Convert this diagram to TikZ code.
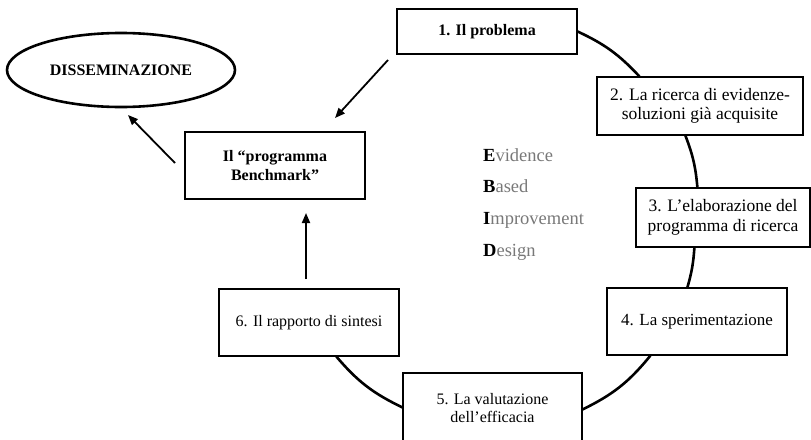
\documentclass[tikz,border=0pt]{standalone}
\usepackage{fontspec}
\setmainfont{Liberation Serif}
\usetikzlibrary{calc,shapes.geometric,arrows.meta}
\definecolor{ebidgray}{RGB}{120,120,120}
\begin{document}
\begin{tikzpicture}[x=1pt,y=1pt,
  boxnode/.style={draw, line width=1.2pt, rectangle, inner sep=0pt, align=center,
    font=\fontsize{16}{18.6}\selectfont},
  bigbox/.style={boxnode, font=\fontsize{17.5}{19.6}\selectfont},
  boldbox/.style={boxnode, font=\fontsize{16}{18.6}\selectfont\bfseries},
  ring/.style={line width=2.6pt},
  arr/.style={line width=1.8pt, -{Triangle[length=10pt,width=8pt]}},
  ebidword/.style={anchor=base west, inner sep=0pt,
    font=\fontsize{18.5}{20}\selectfont, text=ebidgray}
]
\useasboundingbox (0,0) rectangle (811,-439);

% boxes
\node[boldbox, minimum width=180pt, minimum height=45pt] (b1) at (487,-31.5) {1. Il problema};
\node[bigbox, minimum width=206pt, minimum height=58pt] (b2) at (700,-106) {2. La ricerca di evidenze-\\soluzioni già acquisite};
\node[bigbox, minimum width=174pt, minimum height=59pt] (b3) at (723,-217.5) {3. L’elaborazione del\\programma di ricerca};
\node[boxnode, font=\fontsize{17}{19}\selectfont, minimum width=180pt, minimum height=67pt] (b4) at (697,-321.5) {4. La sperimentazione};
\node[boxnode, minimum width=179pt, minimum height=70pt] (b5) at (492.5,-408) {5. La valutazione\\dell’efficacia};
\node[boxnode, minimum width=180pt, minimum height=67pt] (b6) at (309,-322.5) {6. Il rapporto di sintesi};
\node[boldbox, minimum width=180pt, minimum height=67pt] (bench) at (275,-165.5) {Il “programma\\Benchmark”};
\node[ellipse, draw, line width=2.6pt, minimum width=228pt, minimum height=74pt, inner sep=0pt,
  font=\fontsize{16}{18.6}\selectfont\bfseries] (diss) at (121,-70) {DISSEMINAZIONE};

% EBID
\node[ebidword] (ev) at (483,-161) {\textcolor{black}{\bfseries E}vidence};
\node[ebidword] (ba) at (483,-192.7) {\textcolor{black}{\bfseries B}ased};
\node[ebidword] (im) at (483,-224.4) {\textcolor{black}{\bfseries I}mprovement};
\node[ebidword] (de) at (483,-256) {\textcolor{black}{\bfseries D}esign};

% circle arcs
\draw[ring] (b1.east) to[bend left=11] ($(b2.north west)+(43,0)$);
\draw[ring] ($(b2.south west)+(89,0)$) to[bend left=8] ($(b3.north west)+(62,0)$);
\draw[ring] ($(b3.south west)+(59,0)$) to[bend left=6] ($(b4.north west)+(81,0)$);
\draw[ring] ($(b4.south west)+(44,0)$) to[bend left=12.5] ($(b5.north east)+(0,-37)$);
\draw[ring] ($(b6.south west)+(118,0)$) to[bend right=12] ($(b5.north west)+(0,-35)$);

% arrows
\coordinate (a1s) at (388,-60);
\coordinate (a1e) at (335,-118);
\coordinate (a2s) at (175,-163);
\coordinate (a2e) at (128,-115);
\coordinate (a3s) at (306,-279);
\coordinate (a3e) at (306,-213);
\draw[arr] (a1s) -- (a1e);
\draw[arr] (a2s) -- (a2e);
\draw[arr] (a3s) -- (a3e);
\end{tikzpicture}
\end{document}
